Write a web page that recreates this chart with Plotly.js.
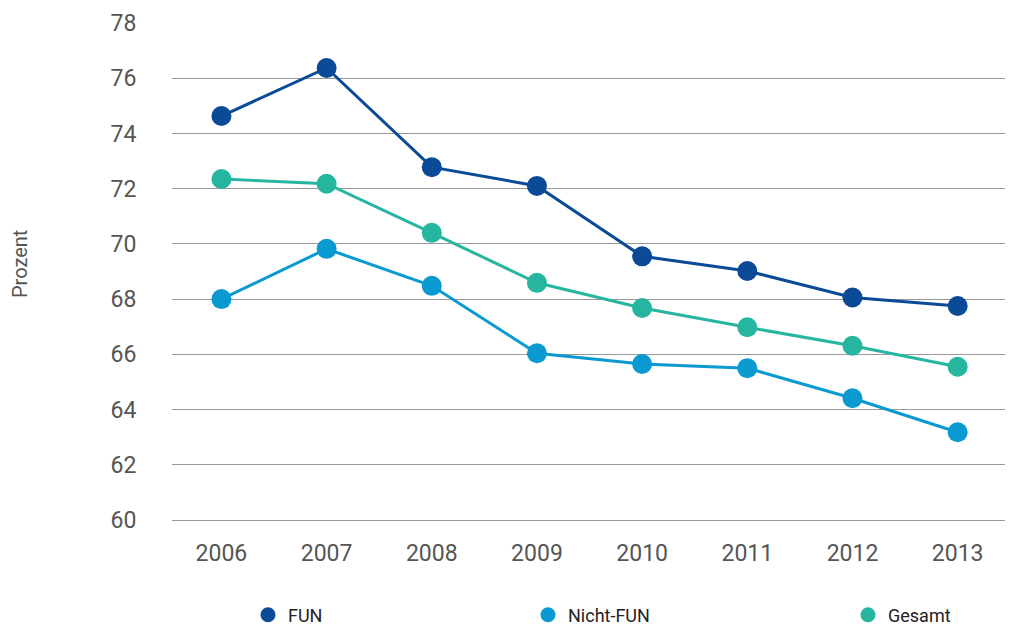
<!DOCTYPE html>
<html>
<head>
<meta charset="utf-8">
<script src="https://cdn.plot.ly/plotly-3.0.1.min.js"></script>
<style>html,body{margin:0;padding:0;background:#fff;}#chart{width:1013px;height:628px;}</style>
</head>
<body>
<div id="chart"></div>
<script>
const years = ["2006","2007","2008","2009","2010","2011","2012","2013"];
const fun = [74.63, 76.37, 72.78, 72.10, 69.55, 69.02, 68.06, 67.75];
const nichtFun = [68.00, 69.82, 68.48, 66.04, 65.65, 65.50, 64.41, 63.18];
const gesamt = [72.35, 72.18, 70.40, 68.59, 67.68, 66.98, 66.31, 65.55];
const yTicks = [60, 62, 64, 66, 68, 70, 72, 74, 76, 78];
const seriesNames = ["FUN", "Nicht-FUN", "Gesamt"];
const colors = ["#0a4a96", "#0a9ad1", "#26b6a0"];
const seriesData = [fun, nichtFun, gesamt];

const traces = [];
seriesData.forEach((vals, i) => {
  traces.push({
    x: years, y: vals, type: "scatter", mode: "lines+markers",
    name: seriesNames[i], showlegend: false,
    line: {color: colors[i], width: 3},
    marker: {color: colors[i], size: 20}
  });
});
const legendIds = ["legend", "legend2", "legend3"];
seriesNames.forEach((n, i) => {
  traces.push({
    x: [null], y: [null], type: "scatter", mode: "markers",
    name: n, showlegend: true, legend: legendIds[i],
    marker: {color: colors[i], size: 15}
  });
});

const FF = "Roboto, 'Liberation Sans', sans-serif";
const legFont = {family: FF, size: 18, color: "#222"};
const legX = [248, 528, 848];
const W = 1013, L = 172, R = 8, T = 23, B = 108;
const pw = W - L - R, ph = 628 - T - B;
function legendAt(px) {
  return {x: (px - L) / pw, xanchor: "left", y: (520 - 615) / ph, yanchor: "middle",
    orientation: "h", font: legFont, bgcolor: "rgba(0,0,0,0)", itemwidth: 30};
}

const layout = {
  width: 1013, height: 628,
  margin: {l: L, r: R, t: T, b: B, autoexpand: false},
  paper_bgcolor: "#fff", plot_bgcolor: "#fff",
  font: {family: FF, color: "#555"},
  xaxis: {
    type: "category", range: [-0.47, 7.45], automargin: false,
    showgrid: false, zeroline: false, showline: true, linecolor: "#999", linewidth: 1,
    ticks: "outside", ticklen: 12, tickcolor: "rgba(0,0,0,0)",
    tickfont: {size: 23, color: "#555", family: FF}
  },
  yaxis: {
    range: [60, 78], tickvals: yTicks, automargin: false,
    showgrid: true, gridcolor: "#999", gridwidth: 1,
    zeroline: false, showline: false,
    ticks: "outside", ticklen: 30, tickcolor: "rgba(0,0,0,0)",
    tickfont: {size: 23, color: "#555", family: FF}
  },
  legend: legendAt(legX[0]),
  legend2: legendAt(legX[1]),
  legend3: legendAt(legX[2]),
  annotations: [{
    text: "Prozent", xref: "paper", yref: "paper",
    x: (20 - L) / pw, y: (520 - 264) / ph, xanchor: "center", yanchor: "middle",
    textangle: -90, showarrow: false,
    font: {size: 20, color: "#555", family: FF}
  }]
};

Plotly.newPlot("chart", traces, layout, {displayModeBar: false, staticPlot: true});
</script>
</body>
</html>
